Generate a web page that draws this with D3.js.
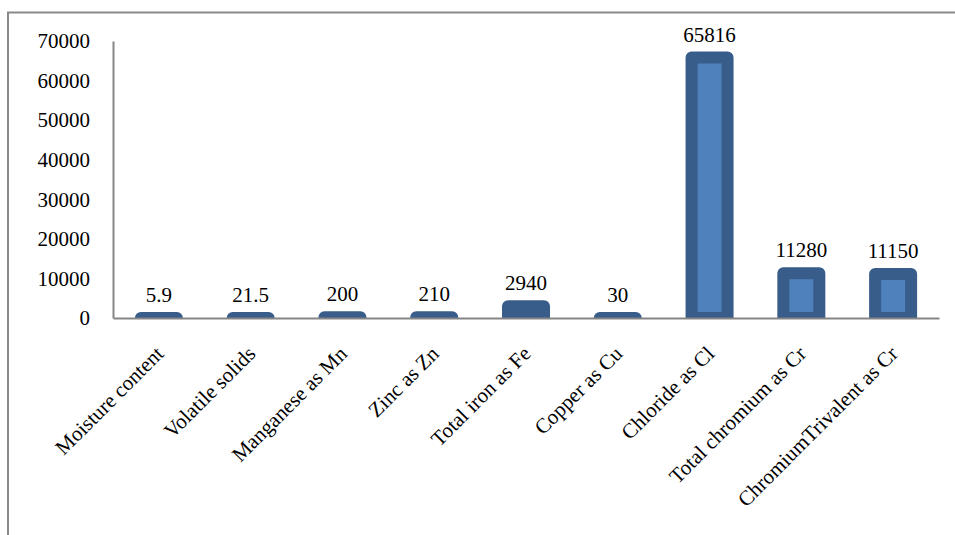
<!DOCTYPE html>
<html>
<head>
<meta charset="utf-8">
<script src="https://cdn.jsdelivr.net/npm/d3@7"></script>
<style>
  html, body { margin: 0; padding: 0; background: #fff; }
  svg { display: block; }
  svg text { font-family: "Liberation Serif", "Times New Roman", serif !important; fill: #000; }
</style>
</head>
<body>
<svg id="chart" width="955" height="535"></svg>
<script>
// Chart data
const categories = [
  "Moisture content", "Volatile solids", "Manganese as Mn", "Zinc as Zn",
  "Total iron as Fe", "Copper as Cu", "Chloride as Cl",
  "Total chromium as Cr", "ChromiumTrivalent as Cr"
];
const values = [5.9, 21.5, 200, 210, 2940, 30, 65816, 11280, 11150];
const valueLabels = ["5.9", "21.5", "200", "210", "2940", "30", "65816", "11280", "11150"];
const yTicks = [0, 10000, 20000, 30000, 40000, 50000, 60000, 70000];

const svg = d3.select("#chart");
const plot = { left: 113, right: 939, top: 41, bottom: 318 };

// Outer chart frame (runs off the bottom/right of the page)
svg.append("rect")
  .attr("x", 8).attr("y", 12.5)
  .attr("width", 1000).attr("height", 600)
  .attr("fill", "none").attr("stroke", "#898989").attr("stroke-width", 2);

const x = d3.scaleBand().domain(categories).range([plot.left, plot.right]).paddingInner(0).paddingOuter(0);
const y = d3.scaleLinear().domain([0, 70000]).range([plot.bottom, plot.top]);

// Clip bars at the category axis
svg.append("clipPath").attr("id", "plotClip")
  .append("rect")
  .attr("x", plot.left).attr("y", 0)
  .attr("width", plot.right - plot.left).attr("height", plot.bottom);

const barW = 36;
svg.append("g").attr("clip-path", "url(#plotClip)")
  .selectAll("rect")
  .data(values)
  .join("rect")
  .attr("x", (d, i) => x(categories[i]) + x.bandwidth() / 2 - barW / 2)
  .attr("y", d => y(d))
  .attr("width", barW)
  .attr("height", d => y(0) - y(d))
  .attr("fill", "#4F81BD")
  .attr("stroke", "#385D8A")
  .attr("stroke-width", 12)
  .attr("stroke-linejoin", "round");

// Value labels
svg.append("g")
  .selectAll("text")
  .data(values)
  .join("text")
  .attr("x", (d, i) => x(categories[i]) + x.bandwidth() / 2)
  .attr("y", d => y(d) - 16)
  .attr("text-anchor", "middle")
  .attr("font-size", 21)
  .text((d, i) => valueLabels[i]);

// Value axis
const yAxis = svg.append("g")
  .attr("transform", `translate(${plot.left},0)`)
  .call(d3.axisLeft(y).tickValues(yTicks).tickSize(0).tickPadding(23).tickFormat(d3.format("d")));
yAxis.attr("font-family", null);
yAxis.select(".domain").attr("stroke", "#868686").attr("stroke-width", 2);
yAxis.selectAll("text")
  .attr("font-size", 21)
  .attr("fill", "#000");

// Category axis
const xAxis = svg.append("g")
  .attr("transform", `translate(0,${plot.bottom})`)
  .call(d3.axisBottom(x).tickSize(0).tickPadding(0));
xAxis.attr("font-family", null);
xAxis.select(".domain").attr("stroke", "#868686").attr("stroke-width", 2);
xAxis.selectAll("text")
  .attr("font-size", 21)
  .attr("fill", "#000")
  .attr("text-anchor", "end")
  .attr("dy", null)
  .attr("transform", "translate(6,37) rotate(-45)");
</script>
</body>
</html>
